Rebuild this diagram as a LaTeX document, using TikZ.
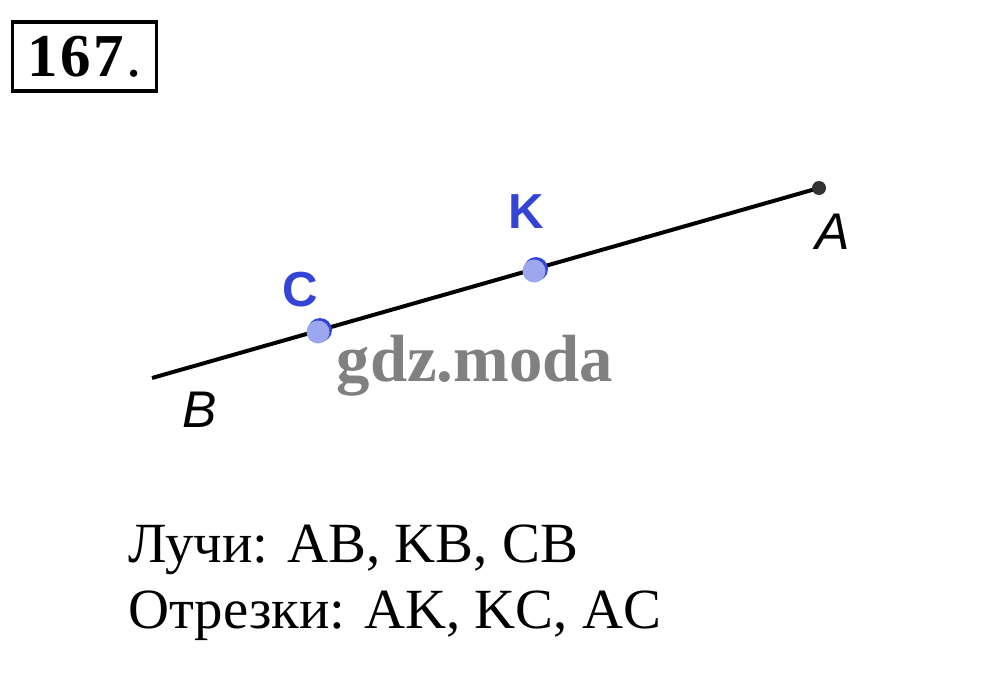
\documentclass[tikz,border=0pt]{standalone}
\usepackage{fontspec}
\setmainfont{Liberation Serif}
\setsansfont{Liberation Sans}
\usepackage{tikz}
\usetikzlibrary{calc}
\definecolor{ptblue}{RGB}{52,68,214}
\definecolor{ptlight}{RGB}{155,168,240}

\begin{document}
\begin{tikzpicture}[x=0.03cm,y=-0.03cm]
\useasboundingbox (0,0) rectangle (995,694);
\tikzset{
  lbl/.style={font=\sffamily\itshape\fontsize{44}{50}\selectfont,inner sep=0pt},
  ptlbl/.style={font=\sffamily\bfseries\fontsize{42}{48}\selectfont,text=ptblue,inner sep=0pt},
  answer/.style={font=\fontsize{48.5}{56}\selectfont,anchor=base west,inner sep=0pt}
}
% number of the exercise
\node[draw,line width=2.6pt,inner sep=0pt,minimum width=4.32cm,minimum height=2.07cm,
  text depth=0pt,font=\fontsize{52}{58}\selectfont] (num) at (84.5,56.5)
  {\textbf{1\kern2pt6\kern2pt7}\kern2pt.};
% the ray
\coordinate (B) at (152,378);
\coordinate (A) at (819,188);
\coordinate (C) at (320,330);
\coordinate (K) at (536,269);
\draw[line width=3.4pt] (B) -- (A);
\fill[black!80] (A) circle (7);
\foreach \p in {C,K}
{
\fill[ptblue] (\p) circle (12);
\fill[ptlight] ($(\p)+(-2,2)$) circle (11.5);
}
% labels
\node[lbl] (la) at (833,232) {A};
\node[lbl] (lb) at (200,410) {B};
\node[ptlbl] (lk) at (526,212) {K};
\node[ptlbl] (lc) at (300,290) {C};
% watermark
\node[font=\bfseries\fontsize{57}{60}\selectfont,text=black!50,inner sep=0pt] (wm) at (475,366) {gdz.moda};
% answer
\node[answer] (rays) at (128,562) {Лучи: AB, KB, CB};
\node[answer] (segs) at (128,628) {Отрезки: AK, KC, AC};
\end{tikzpicture}
\end{document}
